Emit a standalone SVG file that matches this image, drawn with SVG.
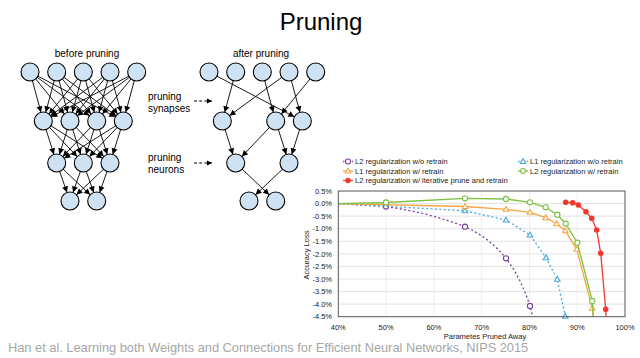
<svg xmlns="http://www.w3.org/2000/svg" width="640" height="358" viewBox="0 0 640 358">
<style>
text{font-family:"Liberation Sans",Arial,sans-serif;fill:#000}
.nd{fill:#cfe2f3;stroke:#000;stroke-width:1.1}
.ed{stroke:#000;stroke-width:0.9;marker-end:url(#ah)}
.lbl{font-size:10px}
.tk{font-size:7.5px;fill:#222}
.lg{font-size:7.5px;fill:#222}
.grid{stroke:#e2e2e2;stroke-width:1}
.vgrid{stroke:#efefef;stroke-width:1}
.s{fill:none;stroke-width:1.3}
.pu{fill:#fff;stroke:#7b3f9e;stroke-width:1.1}
</style>
<defs>
<marker id="ah" markerUnits="userSpaceOnUse" markerWidth="20" markerHeight="10" refX="15" refY="3" orient="auto" overflow="visible"><path d="M0,0 L6,3 L0,6 Z" fill="#000"/></marker>
<marker id="ah2" markerUnits="userSpaceOnUse" markerWidth="10" markerHeight="10" refX="5" refY="2.5" orient="auto" overflow="visible"><path d="M0,0 L5,2.5 L0,5 Z" fill="#000"/></marker>
<marker id="mGr" markerUnits="userSpaceOnUse" markerWidth="8" markerHeight="8" refX="4" refY="4" overflow="visible"><circle cx="4" cy="4" r="2.6" fill="#fff" stroke="#7cc242" stroke-width="1.1"/></marker>
<marker id="mOr" markerUnits="userSpaceOnUse" markerWidth="8" markerHeight="8" refX="4" refY="4" overflow="visible"><path d="M4,1.2 L6.8,6 L1.2,6 Z" fill="#fff" stroke="#f7a541" stroke-width="1.1"/></marker>
<marker id="mBl" markerUnits="userSpaceOnUse" markerWidth="8" markerHeight="8" refX="4" refY="4" overflow="visible"><path d="M4,1.2 L6.8,6 L1.2,6 Z" fill="#fff" stroke="#4aa8de" stroke-width="1.1"/></marker>
<marker id="mRd" markerUnits="userSpaceOnUse" markerWidth="8" markerHeight="8" refX="4" refY="4" overflow="visible"><circle cx="4" cy="4" r="2.8" fill="#f4372b"/></marker>
</defs>
<rect width="640" height="358" fill="#fff"/>
<text x="321" y="30" font-size="24" text-anchor="middle">Pruning</text>
<text class="lbl" x="87" y="57" text-anchor="middle">before pruning</text>
<text class="lbl" x="261" y="57" text-anchor="middle">after pruning</text>
<text class="lbl" x="148" y="100">pruning</text>
<text class="lbl" x="148" y="112">synapses</text>
<text class="lbl" x="148" y="161">pruning</text>
<text class="lbl" x="148" y="173">neurons</text>
<g id="connectors">
<line class="ed" x1="30" y1="72" x2="43.33" y2="121"/><line class="ed" x1="30" y1="72" x2="70" y2="121"/><line class="ed" x1="30" y1="72" x2="96.67" y2="121"/><line class="ed" x1="30" y1="72" x2="123.33" y2="121"/>
<line class="ed" x1="56.67" y1="72" x2="43.33" y2="121"/><line class="ed" x1="56.67" y1="72" x2="70" y2="121"/><line class="ed" x1="56.67" y1="72" x2="96.67" y2="121"/><line class="ed" x1="56.67" y1="72" x2="123.33" y2="121"/>
<line class="ed" x1="83.33" y1="72" x2="43.33" y2="121"/><line class="ed" x1="83.33" y1="72" x2="70" y2="121"/><line class="ed" x1="83.33" y1="72" x2="96.67" y2="121"/><line class="ed" x1="83.33" y1="72" x2="123.33" y2="121"/>
<line class="ed" x1="110" y1="72" x2="43.33" y2="121"/><line class="ed" x1="110" y1="72" x2="70" y2="121"/><line class="ed" x1="110" y1="72" x2="96.67" y2="121"/><line class="ed" x1="110" y1="72" x2="123.33" y2="121"/>
<line class="ed" x1="136.67" y1="72" x2="43.33" y2="121"/><line class="ed" x1="136.67" y1="72" x2="70" y2="121"/><line class="ed" x1="136.67" y1="72" x2="96.67" y2="121"/><line class="ed" x1="136.67" y1="72" x2="123.33" y2="121"/>
<line class="ed" x1="43.33" y1="121" x2="56.67" y2="163"/><line class="ed" x1="43.33" y1="121" x2="83.33" y2="163"/><line class="ed" x1="43.33" y1="121" x2="110" y2="163"/>
<line class="ed" x1="70" y1="121" x2="56.67" y2="163"/><line class="ed" x1="70" y1="121" x2="83.33" y2="163"/><line class="ed" x1="70" y1="121" x2="110" y2="163"/>
<line class="ed" x1="96.67" y1="121" x2="56.67" y2="163"/><line class="ed" x1="96.67" y1="121" x2="83.33" y2="163"/><line class="ed" x1="96.67" y1="121" x2="110" y2="163"/>
<line class="ed" x1="123.33" y1="121" x2="56.67" y2="163"/><line class="ed" x1="123.33" y1="121" x2="83.33" y2="163"/><line class="ed" x1="123.33" y1="121" x2="110" y2="163"/>
<line class="ed" x1="56.67" y1="163" x2="70" y2="201"/><line class="ed" x1="56.67" y1="163" x2="96.67" y2="201"/>
<line class="ed" x1="83.33" y1="163" x2="70" y2="201"/><line class="ed" x1="83.33" y1="163" x2="96.67" y2="201"/>
<line class="ed" x1="110" y1="163" x2="70" y2="201"/><line class="ed" x1="110" y1="163" x2="96.67" y2="201"/>
<line class="ed" x1="209" y1="72" x2="302.33" y2="121"/>
<line class="ed" x1="235.67" y1="72" x2="222.33" y2="121"/>
<line class="ed" x1="262.33" y1="72" x2="275.67" y2="121"/>
<line class="ed" x1="289" y1="72" x2="222.33" y2="121"/>
<line class="ed" x1="289" y1="72" x2="302.33" y2="121"/>
<line class="ed" x1="315.67" y1="72" x2="275.67" y2="121"/>
<line class="ed" x1="222.33" y1="121" x2="235.67" y2="163"/>
<line class="ed" x1="275.67" y1="121" x2="235.67" y2="163"/>
<line class="ed" x1="275.67" y1="121" x2="289" y2="163"/>
<line class="ed" x1="302.33" y1="121" x2="289" y2="163"/>
<line class="ed" x1="235.67" y1="163" x2="275.67" y2="201"/>
<line class="ed" x1="289" y1="163" x2="249" y2="201"/>
<line x1="194" y1="101" x2="212" y2="101" stroke="#000" stroke-width="1" stroke-dasharray="3,2.2" marker-end="url(#ah2)"/>
<line x1="194" y1="163" x2="212" y2="163" stroke="#000" stroke-width="1" stroke-dasharray="3,2.2" marker-end="url(#ah2)"/>
</g>
<g id="before-net">
<circle class="nd" cx="30" cy="72" r="9"/><circle class="nd" cx="56.67" cy="72" r="9"/><circle class="nd" cx="83.33" cy="72" r="9"/><circle class="nd" cx="110" cy="72" r="9"/><circle class="nd" cx="136.67" cy="72" r="9"/>
<circle class="nd" cx="43.33" cy="121" r="9"/><circle class="nd" cx="70" cy="121" r="9"/><circle class="nd" cx="96.67" cy="121" r="9"/><circle class="nd" cx="123.33" cy="121" r="9"/>
<circle class="nd" cx="56.67" cy="163" r="9"/><circle class="nd" cx="83.33" cy="163" r="9"/><circle class="nd" cx="110" cy="163" r="9"/>
<circle class="nd" cx="70" cy="201" r="9"/><circle class="nd" cx="96.67" cy="201" r="9"/>
</g>
<g id="after-net">
<circle class="nd" cx="209" cy="72" r="9"/><circle class="nd" cx="235.67" cy="72" r="9"/><circle class="nd" cx="262.33" cy="72" r="9"/><circle class="nd" cx="289" cy="72" r="9"/><circle class="nd" cx="315.67" cy="72" r="9"/>
<circle class="nd" cx="222.33" cy="121" r="9"/><circle class="nd" cx="275.67" cy="121" r="9"/><circle class="nd" cx="302.33" cy="121" r="9"/>
<circle class="nd" cx="235.67" cy="163" r="9"/><circle class="nd" cx="289" cy="163" r="9"/>
<circle class="nd" cx="249" cy="201" r="9"/><circle class="nd" cx="275.67" cy="201" r="9"/>
</g>
<g id="chart">
<g>
<line class="vgrid" x1="386.1" y1="191" x2="386.1" y2="316.7"/><line class="vgrid" x1="433.9" y1="191" x2="433.9" y2="316.7"/><line class="vgrid" x1="481.7" y1="191" x2="481.7" y2="316.7"/><line class="vgrid" x1="529.5" y1="191" x2="529.5" y2="316.7"/><line class="vgrid" x1="577.3" y1="191" x2="577.3" y2="316.7"/>
<line class="grid" x1="338.3" y1="203.6" x2="625" y2="203.6"/><line class="grid" x1="338.3" y1="216.1" x2="625" y2="216.1"/><line class="grid" x1="338.3" y1="228.7" x2="625" y2="228.7"/><line class="grid" x1="338.3" y1="241.3" x2="625" y2="241.3"/><line class="grid" x1="338.3" y1="253.9" x2="625" y2="253.9"/><line class="grid" x1="338.3" y1="266.4" x2="625" y2="266.4"/><line class="grid" x1="338.3" y1="279" x2="625" y2="279"/><line class="grid" x1="338.3" y1="291.6" x2="625" y2="291.6"/><line class="grid" x1="338.3" y1="304.1" x2="625" y2="304.1"/>
</g>
<path class="s" stroke="#7b3f9e" stroke-dasharray="2,2.4" stroke-width="1.5" d="M338.3,203.7 L386,206.5 Q430,213 465,226.7 Q490,238 506,258.3 Q521,278 530,306 L532.7,316.7"/>
<circle class="pu" cx="386" cy="206.5" r="2.6"/><circle class="pu" cx="465" cy="226.7" r="2.6"/><circle class="pu" cx="506" cy="258.3" r="2.6"/><circle class="pu" cx="530" cy="306" r="2.6"/>
<polyline class="s" stroke="#4aa8de" stroke-dasharray="2,2.4" stroke-width="1.5" points="338.3,203.7 465,210.7 506,220 530,235 546,257.7 557.3,279.3 565.3,316.2" marker-mid="url(#mBl)" marker-end="url(#mBl)"/>
<polyline class="s" stroke="#f7a541" points="338.3,203.7 465,206.5 506,209.3 530,212.3 545.7,217.7 556.7,223.7 565.3,230.7 576.7,249.3 592.3,308.3 593.3,316.7" marker-mid="url(#mOr)"/>
<polyline class="s" stroke="#7cc242" points="338.3,203.7 386,202.5 465,198.3 506,199 530,202.3 545.7,207.3 557.3,214.7 565.7,223.7 577.3,242.7 592.3,301 593.3,316.7" marker-mid="url(#mGr)"/>
<polyline class="s" stroke="#f4372b" points="565.7,202.3 572.7,202.7 578.3,205 586,211.7 591.7,218.3 596.7,230 600.7,253.3 605.7,309.3 606,316.7" marker-start="url(#mRd)" marker-mid="url(#mRd)"/>
<rect x="338.3" y="191" width="286.7" height="125.7" fill="none" stroke="#555" stroke-width="1"/>
<g text-anchor="end">
<text class="tk" x="332" y="193.7">0.5%</text><text class="tk" x="332" y="206.3">0.0%</text><text class="tk" x="332" y="218.8">-0.5%</text><text class="tk" x="332" y="231.4">-1.0%</text><text class="tk" x="332" y="244">-1.5%</text><text class="tk" x="332" y="256.6">-2.0%</text><text class="tk" x="332" y="269.1">-2.5%</text><text class="tk" x="332" y="281.7">-3.0%</text><text class="tk" x="332" y="294.3">-3.5%</text><text class="tk" x="332" y="306.8">-4.0%</text><text class="tk" x="332" y="319.4">-4.5%</text>
</g>
<g text-anchor="middle">
<text class="tk" x="338.3" y="329.5">40%</text><text class="tk" x="386.1" y="329.5">50%</text><text class="tk" x="433.9" y="329.5">60%</text><text class="tk" x="481.7" y="329.5">70%</text><text class="tk" x="529.5" y="329.5">80%</text><text class="tk" x="577.3" y="329.5">90%</text><text class="tk" x="625" y="329.5">100%</text>
</g>
<text class="tk" x="485" y="339" text-anchor="middle">Parametes Pruned Away</text>
<text class="tk" x="0" y="0" text-anchor="middle" transform="translate(308.5 255) rotate(-90)">Accuracy Loss</text>
<g id="legend">
<line x1="343" y1="161.5" x2="353" y2="161.5" stroke="#7b3f9e" stroke-width="1.3" stroke-dasharray="1.5,1.5"/><circle cx="348" cy="161.5" r="2.5" fill="#fff" stroke="#7b3f9e" stroke-width="1.1"/>
<text class="lg" x="355" y="164">L2 regularization w/o retrain</text>
<line x1="518" y1="161.5" x2="528" y2="161.5" stroke="#4aa8de" stroke-width="1.3" stroke-dasharray="1.5,1.5"/><path d="M523,158.7 L525.8,163.5 L520.2,163.5 Z" fill="#fff" stroke="#4aa8de" stroke-width="1.1"/>
<text class="lg" x="530" y="164">L1 regularization w/o retrain</text>
<line x1="343" y1="171" x2="353" y2="171" stroke="#f7a541" stroke-width="1.3"/><path d="M348,168.2 L350.8,173 L345.2,173 Z" fill="#fff" stroke="#f7a541" stroke-width="1.1"/>
<text class="lg" x="355" y="173.5">L1 regularization w/ retrain</text>
<line x1="518" y1="171" x2="528" y2="171" stroke="#7cc242" stroke-width="1.3"/><circle cx="523" cy="171" r="2.5" fill="#fff" stroke="#7cc242" stroke-width="1.1"/>
<text class="lg" x="530" y="173.5">L2 regularization w/ retrain</text>
<line x1="343" y1="180.5" x2="353" y2="180.5" stroke="#f4372b" stroke-width="1.3"/><circle cx="348" cy="180.5" r="2.7" fill="#f4372b"/>
<text class="lg" x="355" y="183">L2 regularization w/ iterative prune and retrain</text>
</g>
</g>
<text x="8" y="352" font-size="12.8" style="fill:#a6a6a6">Han et al. Learning both Weights and Connections for Efficient Neural Networks, NIPS 2015</text>
</svg>
